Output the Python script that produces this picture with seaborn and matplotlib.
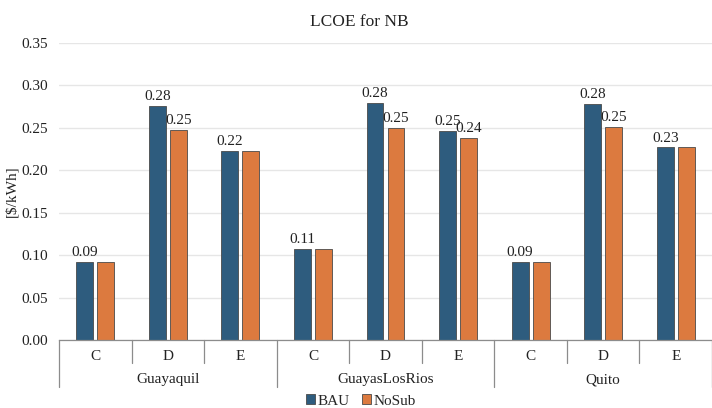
import matplotlib
matplotlib.use("Agg")
import matplotlib.pyplot as plt
import matplotlib.transforms as mtransforms
from matplotlib.patches import Patch
import seaborn as sns
import pandas as pd

# LCOE values per city and class
cities = ["Guayaquil", "GuayasLosRios", "Quito"]
classes = ["C", "D", "E"]
bau = [0.092, 0.276, 0.223, 0.107, 0.279, 0.246, 0.092, 0.278, 0.227]
nosub = [0.092, 0.248, 0.223, 0.107, 0.250, 0.238, 0.092, 0.251, 0.227]
# which NoSub bars carry a value label
nosub_labeled = [False, True, False, False, True, True, False, True, False]
series = ["BAU", "NoSub"]
colors = {"BAU": "#2E5C7E", "NoSub": "#DC7A3F"}
y_ticks = [0.00, 0.05, 0.10, 0.15, 0.20, 0.25, 0.30, 0.35]

sns.set_theme(style="white")
plt.rcParams["font.family"] = "serif"
plt.rcParams["font.serif"] = ["Liberation Serif", "Times New Roman", "DejaVu Serif"]

slots = [f"{c}|{k}" for c in cities for k in classes]
df = pd.DataFrame({
    "slot": slots * 2,
    "series": ["BAU"] * len(slots) + ["NoSub"] * len(slots),
    "value": bau + nosub,
})

fig = plt.figure(figsize=(7.12, 4.08), dpi=100)
ax = fig.add_axes([59 / 712, 1 - 340 / 408, 1 - 59 / 712, 297 / 408])

sns.barplot(data=df, x="slot", y="value", hue="series", order=slots,
            hue_order=series, palette=colors, saturation=1, width=0.58, gap=0.2,
            edgecolor="#4a4a4a", linewidth=0.6, legend=False, ax=ax)

ax.set_ylim(0, 0.35)
ax.set_xlim(-0.5, len(slots) - 0.5)
ax.set_yticks(y_ticks)
ax.set_yticklabels([f"{t:.2f}" for t in y_ticks], fontsize=11, color="#222222")
ax.tick_params(axis="y", length=0, pad=8)
ax.tick_params(axis="x", length=0, labelbottom=False)
ax.set_xlabel("")
ax.set_ylabel("[$/kWh]", fontsize=11, color="#222222", labelpad=2)
ax.yaxis.grid(True, color="#e6e6e6", linewidth=1)
ax.set_axisbelow(True)
for side in ("top", "right", "left"):
    ax.spines[side].set_visible(False)
ax.spines["bottom"].set_color("#8c8c8c")
ax.spines["bottom"].set_linewidth(0.9)

# value labels
bau_bars, nosub_bars = ax.containers[0], ax.containers[1]
ax.bar_label(bau_bars, labels=[f"{v:.2f}" for v in bau], padding=2,
             fontsize=11, color="#222222")
ax.bar_label(nosub_bars,
             labels=[f"{v:.2f}" if s else "" for v, s in zip(nosub, nosub_labeled)],
             padding=2, fontsize=11, color="#222222")

# two-level category axis
trans = mtransforms.blended_transform_factory(ax.transData, ax.transAxes)
short_drop = -23 / 297
long_drop = -47 / 297
for i, s in enumerate(slots):
    city, cls = s.split("|")
    ax.text(i, -16 / 297, cls, transform=trans, ha="center", va="center",
            fontsize=11, color="#222222")
for b in range(len(slots) + 1):
    xb = b - 0.5
    drop = long_drop if b % len(classes) == 0 else short_drop
    ax.plot([xb, xb], [0, drop], transform=trans, color="#8c8c8c",
            linewidth=0.9, clip_on=False)
for j, city in enumerate(cities):
    center = j * len(classes) + (len(classes) - 1) / 2
    ax.text(center, -40 / 297, city, transform=trans, ha="center", va="center",
            fontsize=11, color="#222222")

fig.suptitle("LCOE for NB", x=0.505, y=1 - 22 / 408, va="center",
             fontsize=12.5, color="#222222")

handles = [Patch(facecolor=colors[s], edgecolor="#4a4a4a", linewidth=0.6)
           for s in series]
fig.legend(handles, series, loc="center", bbox_to_anchor=(0.507, 1 - 401 / 408),
           ncol=2, frameon=False, fontsize=11, handlelength=0.6,
           handleheight=0.6, handletextpad=0.15, columnspacing=0.8)

fig.savefig("out.png", dpi=100)
